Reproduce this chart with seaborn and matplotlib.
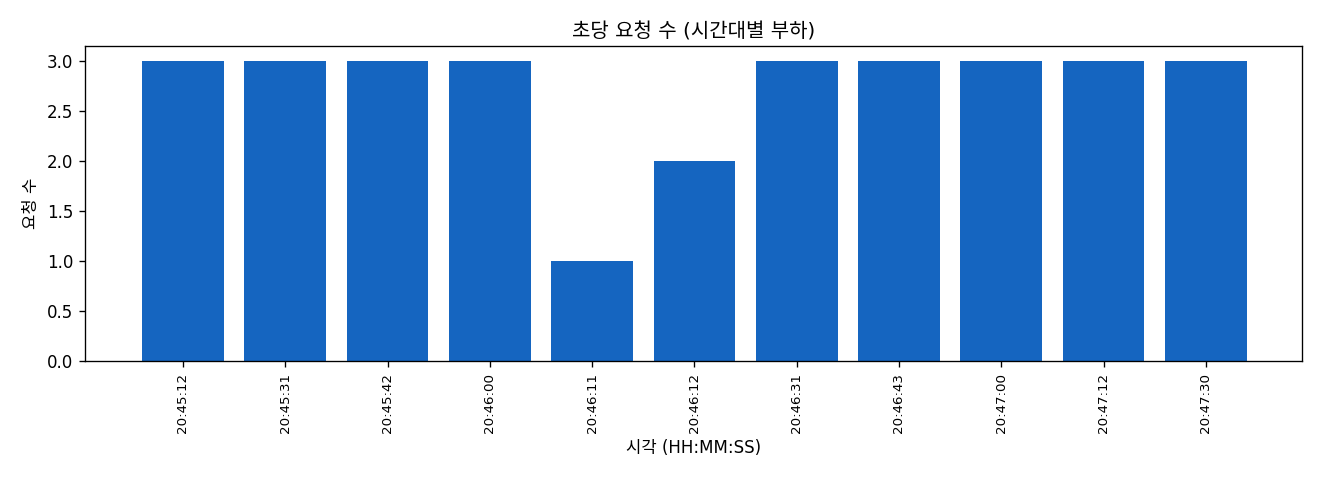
import matplotlib
matplotlib.use("Agg")
import matplotlib.pyplot as plt
import seaborn as sns
import pandas as pd

times = ["20:45:12", "20:45:31", "20:45:42", "20:46:00", "20:46:11", "20:46:12",
         "20:46:31", "20:46:43", "20:47:00", "20:47:12", "20:47:30"]
counts = [3, 3, 3, 3, 1, 2, 3, 3, 3, 3, 3]

sns.set_style("ticks", {"axes.edgecolor": "black", "text.color": "black",
                        "xtick.color": "black", "ytick.color": "black",
                        "axes.labelcolor": "black"})
plt.rcParams['font.family'] = ['DejaVu Sans', 'Noto Sans CJK KR']
plt.rcParams['axes.unicode_minus'] = False

df = pd.DataFrame({"time": times, "count": counts})

fig = plt.figure(figsize=(11, 4), dpi=120)
ax = fig.add_axes([85/1320, 1 - 361/480, (1302-85)/1320, (361-46)/480])
sns.barplot(data=df, x="time", y="count", color="#1565C0", saturation=1,
            width=0.8, linewidth=0, ax=ax)
ax.set_xlim(-0.958, 10.94)
ax.set_ylim(0, 3.15)
ax.set_title("초당 요청 수 (시간대별 부하)", fontsize=12, pad=5)
ax.set_xlabel("시각 (HH:MM:SS)", fontsize=10)
ax.set_ylabel("요청 수", fontsize=10)
ax.tick_params(axis='x', labelrotation=90, labelsize=8)
ax.tick_params(axis='y', labelsize=10)
for s in ax.spines.values():
    s.set_visible(True)
    s.set_linewidth(0.8)
fig.savefig("out.png", dpi=120)
